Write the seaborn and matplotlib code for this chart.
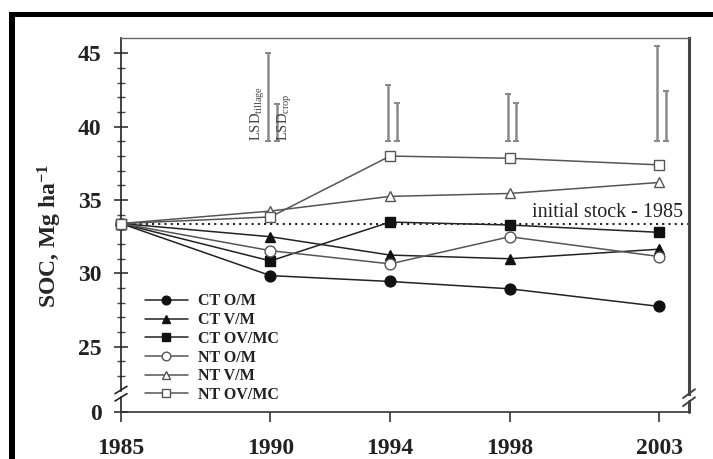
import matplotlib
matplotlib.use("Agg")
import matplotlib.pyplot as plt
import seaborn as sns
import numpy as np
import pandas as pd
from matplotlib.patches import Rectangle
from matplotlib.lines import Line2D

# ---------------- data ----------------
years = [1985, 1990, 1994, 1998, 2003]
series_names = ["CT O/M", "CT V/M", "CT OV/MC", "NT O/M", "NT V/M", "NT OV/MC"]
ct_om = [33.4, 29.85, 29.45, 28.95, 27.75]
ct_vm = [33.4, 32.5, 31.25, 31.0, 31.65]
ct_ovmc = [33.4, 30.85, 33.5, 33.3, 32.8]
nt_om = [33.4, 31.55, 30.65, 32.5, 31.15]
nt_vm = [33.4, 34.25, 35.25, 35.45, 36.2]
nt_ovmc = [33.4, 33.85, 38.0, 37.85, 37.4]
series_values = [ct_om, ct_vm, ct_ovmc, nt_om, nt_vm, nt_ovmc]

lsd_years = [1990, 1994, 1998, 2003]
lsd_base = 39.0
lsd_tillage_top = [45.0, 42.85, 42.25, 45.5]
lsd_crop_top = [41.55, 41.6, 41.6, 42.45]

initial_stock = 33.4
y_tick_values = [25, 30, 35, 40, 45]
y_tick_labels = ["25", "30", "35", "40", "45"]
x_tick_labels = ["1985", "1990", "1994", "1998", "2003"]

# ---------------- style ----------------
sns.set_style("ticks")
plt.rcParams["font.family"] = ["Liberation Serif", "DejaVu Serif"]
plt.rcParams["mathtext.fontset"] = "custom"
plt.rcParams["mathtext.rm"] = "Liberation Serif"
plt.rcParams["mathtext.it"] = "Liberation Serif:italic"
plt.rcParams["mathtext.bf"] = "Liberation Serif:bold"

ZERO_POS = 20.55   # position of the "0" tick below the axis break
Y_TOP = 46.05

fig = plt.figure(figsize=(7.13, 4.59), dpi=100)
ax = fig.add_axes([121 / 713, 1 - 412 / 459, 568 / 713, 374 / 459])

styles = [
    dict(marker="o", color="#222222", mfc="#111111", mec="#111111", ms=7.8),
    dict(marker="^", color="#222222", mfc="#111111", mec="#111111", ms=7.8),
    dict(marker="s", color="#222222", mfc="#111111", mec="#111111", ms=7.0),
    dict(marker="o", color="#555555", mfc="white", mec="#555555", ms=7.8),
    dict(marker="^", color="#555555", mfc="white", mec="#555555", ms=7.8),
    dict(marker="s", color="#555555", mfc="white", mec="#555555", ms=7.0),
]

handles = []
for name, vals, st in zip(series_names, series_values, styles):
    df = pd.DataFrame({"year": years, "soc": vals})
    sns.lineplot(data=df, x="year", y="soc", ax=ax, color=st["color"], lw=1.1,
                 marker=st["marker"], markersize=st["ms"], markerfacecolor=st["mfc"],
                 markeredgecolor=st["mec"], markeredgewidth=1.0, clip_on=False,
                 zorder=4, estimator=None)
    handles.append(Line2D([], [], color=st["color"], lw=1.1, marker=st["marker"],
                          markersize=st["ms"] * 0.8, markerfacecolor=st["mfc"],
                          markeredgecolor=st["mec"], markeredgewidth=1.0))

# initial stock dotted line
ax.axhline(initial_stock, color="#111111", lw=1.4, ls=(0, (1, 2.2)), zorder=2)
ax.text(2003.8, initial_stock + 0.12, "initial stock - 1985", ha="right", va="bottom",
        fontsize=14.5, color="#222222")

# LSD bars
off_t, off_c = -0.07, 0.22
for yr, tt, tc in zip(lsd_years, lsd_tillage_top, lsd_crop_top):
    ax.errorbar([yr + off_t], [(tt + lsd_base) / 2], yerr=[[(tt - lsd_base) / 2], [(tt - lsd_base) / 2]],
                fmt="none", ecolor="#8a8a8a", elinewidth=1.8, capsize=2.4, capthick=1.5, zorder=3)
    ax.errorbar([yr + off_c], [(tc + lsd_base) / 2], yerr=[[(tc - lsd_base) / 2], [(tc - lsd_base) / 2]],
                fmt="none", ecolor="#8a8a8a", elinewidth=1.8, capsize=2.4, capthick=1.5, zorder=3)

ax.text(1989.58, lsd_base, r"LSD$_{\mathrm{tillage}}$", rotation=90, ha="center", va="bottom",
        fontsize=10.5, color="#444444")
ax.text(1990.5, lsd_base, r"LSD$_{\mathrm{crop}}$", rotation=90, ha="center", va="bottom",
        fontsize=10.5, color="#444444")

# axes
ax.set_xlim(1985, 2004)
ax.set_ylim(ZERO_POS, Y_TOP)
ax.set_xticks(years)
ax.set_xticklabels(x_tick_labels)
ax.set_yticks([ZERO_POS] + y_tick_values)
ax.set_yticklabels(["0"] + y_tick_labels)
ax.set_yticks(np.arange(23, 45, 1.0), minor=True)
ax.set_xlabel("")
ax.set_ylabel(r"SOC, Mg ha$^{\mathbf{-1}}$", fontsize=17, fontweight="bold")
ax.yaxis.set_label_coords(-0.1, 0.47)

for lab in ax.get_xticklabels() + ax.get_yticklabels():
    lab.set_fontweight("bold")
    lab.set_fontsize(17)
    lab.set_color("#222222")
ax.tick_params(axis="x", direction="out", length=7, width=1.2, pad=12, color="#333333")
ax.tick_params(axis="y", which="major", direction="inout", length=10, width=1.2, pad=9, color="#333333")
ax.tick_params(axis="y", which="minor", direction="inout", length=6, width=1.0, color="#444444")

ax.spines["left"].set_color("#222222")
ax.spines["left"].set_linewidth(1.2)
ax.spines["bottom"].set_color("#333333")
ax.spines["bottom"].set_linewidth(1.2)
ax.spines["top"].set_color("#666666")
ax.spines["top"].set_linewidth(1.0)
ax.spines["right"].set_color("#444444")
ax.spines["right"].set_linewidth(2.2)
ax.spines["left"].set_bounds(22.0, Y_TOP)
ax.spines["right"].set_bounds(21.75, Y_TOP)

# axis break marks
ax.plot([1985, 1985], [ZERO_POS, 21.6], color="#222222", lw=1.2, clip_on=False)
ax.plot([2004, 2004], [ZERO_POS, 21.3], color="#444444", lw=2.2, clip_on=False)
for yb in (21.55, 22.05):
    ax.plot([1984.8, 1985.2], [yb - 0.25, yb + 0.25], color="#222222", lw=1.2, clip_on=False)
for yb in (21.25, 21.8):
    ax.plot([2003.8, 2004.2], [yb - 0.3, yb + 0.3], color="#444444", lw=1.4, clip_on=False)

leg = ax.legend(handles, series_names, loc="upper left", bbox_to_anchor=(0.042, 0.317),
                frameon=False, prop={"weight": "bold", "size": 11.5},
                handlelength=2.7, handletextpad=0.65, labelspacing=0.17,
                borderpad=0, borderaxespad=0)
for t in leg.get_texts():
    t.set_color("#222222")

# outer black frame (top and left)
fig.add_artist(Rectangle((9 / 713, 1 - 17 / 459), 1 - 9 / 713, 5 / 459,
                         transform=fig.transFigure, color="black", lw=0))
fig.add_artist(Rectangle((9 / 713, 0), 6 / 713, 1 - 12 / 459,
                         transform=fig.transFigure, color="black", lw=0))

fig.savefig("out.png", dpi=100)
